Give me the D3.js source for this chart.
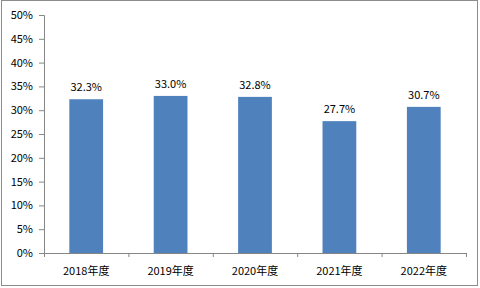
<!DOCTYPE html>
<html>
<head>
<meta charset="utf-8">
<script src="https://cdn.jsdelivr.net/npm/d3@7"></script>
<style>
  body { margin: 0; background: #fff; }
  text { font-family: "Noto Sans CJK SC", "DejaVu Sans", sans-serif; font-size: 11px; fill: #000; }
</style>
</head>
<body>
<div id="chart"></div>
<script>
const years = ["2018年度", "2019年度", "2020年度", "2021年度", "2022年度"];
const values = [32.3, 33.0, 32.8, 27.7, 30.7];
const yTicks = [0, 5, 10, 15, 20, 25, 30, 35, 40, 45, 50];

const width = 480;
const height = 288;
const margin = {top: 15, right: 14, bottom: 35, left: 44};

const svg = d3.select("#chart").append("svg")
  .attr("width", width)
  .attr("height", height);

// outer border
svg.append("rect")
  .attr("x", 1.5).attr("y", 0.5)
  .attr("width", 476).attr("height", 285)
  .attr("fill", "#fff")
  .attr("stroke", "#8c8c8c");

const g = svg.append("g")
  .attr("transform", `translate(${margin.left}, ${margin.top})`);

const innerW = width - margin.left - margin.right;
const innerH = height - margin.top - margin.bottom;

const xScale = d3.scaleBand()
  .domain(years)
  .range([0, innerW])
  .paddingInner(0.6)
  .paddingOuter(0.3);

const yScale = d3.scaleLinear()
  .domain([0, 50])
  .range([innerH, 0]);

// bars
g.selectAll(".bar")
  .data(values)
  .join("rect")
  .attr("class", "bar")
  .attr("x", (d, i) => xScale(years[i]))
  .attr("y", d => yScale(d))
  .attr("width", xScale.bandwidth())
  .attr("height", d => innerH - yScale(d))
  .attr("fill", "#4f81bd");

// value labels
g.selectAll(".val")
  .data(values)
  .join("text")
  .attr("class", "val")
  .attr("x", (d, i) => xScale(years[i]) + xScale.bandwidth() / 2)
  .attr("y", d => yScale(d) - 8)
  .attr("text-anchor", "middle")
  .text(d => d.toFixed(1) + "%");

// y axis
g.append("g")
  .call(d3.axisLeft(yScale).tickValues(yTicks).tickFormat(d => d + "%").tickSize(5).tickPadding(6));

// x axis, ticks between categories
g.append("g")
  .attr("transform", `translate(0, ${innerH})`)
  .call(d3.axisBottom(d3.scaleLinear().domain([0, years.length]).range([0, innerW]))
    .ticks(years.length).tickSize(4).tickFormat(""));

g.selectAll(".xlab")
  .data(years)
  .join("text")
  .attr("class", "xlab")
  .attr("x", d => xScale(d) + xScale.bandwidth() / 2)
  .attr("y", innerH + 22)
  .attr("text-anchor", "middle")
  .text(d => d);

svg.selectAll(".domain, .tick line").attr("stroke", "#868686");
svg.selectAll(".tick text").style("font-size", "11px");
</script>
</body>
</html>
